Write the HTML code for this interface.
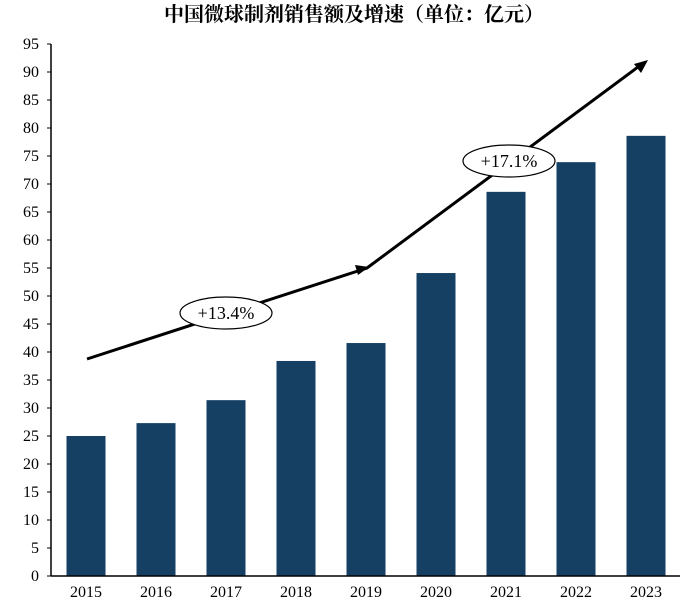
<!DOCTYPE html>
<html><head><meta charset="utf-8"><style>
body{margin:0;background:#fff;}
svg{display:block;font-family:"Liberation Serif","Noto Serif CJK SC",serif;}
</style></head><body>
<svg id="c" width="692" height="603">
<text x="354" y="21" text-anchor="middle" font-size="20" font-weight="bold">中国微球制剂销售额及增速（单位：亿元）</text>
</svg>
<script>
const categories=["2015","2016","2017","2018","2019","2020","2021","2022","2023"];
const values=[25.0,27.3,31.4,38.4,41.6,54.1,68.6,73.9,78.6];
const yTicks=[0,5,10,15,20,25,30,35,40,45,50,55,60,65,70,75,80,85,90,95];
const growthLabels=["+13.4%","+17.1%"];
const NS="http://www.w3.org/2000/svg";
const svg=document.getElementById('c');
const y0=576,yScale=5.6,x0=51,step=70,first=86,bw=39;
const y=v=>y0-v*yScale;
const x=i=>first+i*step;
function mk(t,a,p){const e=document.createElementNS(NS,t);for(const k in a)e.setAttribute(k,a[k]);(p||svg).appendChild(e);return e;}
yTicks.forEach(t=>{
  const tl=mk('line',{x1:47,x2:x0,y1:y(t),y2:y(t),stroke:'#000'});
  
  
  const tx=mk('text',{x:39,y:y(t)+5,'text-anchor':'end','font-size':16});
  tx.textContent=t;
  
  
});
values.forEach((v,i)=>{
  const r=mk('rect',{x:x(i)-bw/2,y:y(v),width:bw,height:y0-y(v),fill:'#153f63'});
  
  
  const t=mk('text',{x:x(i),y:597,'text-anchor':'middle','font-size':16});
  t.textContent=categories[i];
  
  
});
const ya=mk('line',{x1:x0,x2:x0,y1:y(95),y2:y0,stroke:'#000','stroke-width':1.5});


const xa=mk('line',{x1:x0,x2:680,y1:y0,y2:y0,stroke:'#000','stroke-width':1.5});


const arr=mk('polyline',{points:'87,359 367,268 642,64',fill:'none',stroke:'#000','stroke-width':3});


const h1=mk('polygon',{points:'369,267 355,265 358,275',fill:'#000'});


const h2=mk('polygon',{points:'648,60 634,64 641,73',fill:'#000'});


[[226,313],[509,161]].forEach((c,i)=>{
  const e=mk('ellipse',{cx:c[0],cy:c[1],rx:46,ry:16,fill:'#fff',stroke:'#000','stroke-width':1.2});
  
  
  const t=mk('text',{x:c[0],y:c[1]+6,'text-anchor':'middle','font-size':18});
  t.textContent=growthLabels[i];
  
  
});
</script>
</body></html>
